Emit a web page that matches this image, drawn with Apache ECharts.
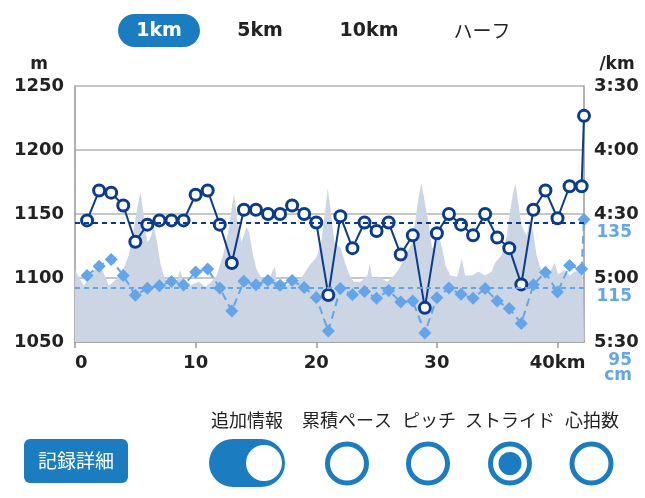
<!DOCTYPE html>
<html>
<head>
<meta charset="utf-8">
<script src="https://cdn.jsdelivr.net/npm/echarts@6/dist/echarts.min.js"></script>
<style>
html,body{margin:0;padding:0;background:#fff;}
#c{width:645px;height:498px;}
</style>
</head>
<body>
<div id="c"></div>
<script>
// ---- data ----
const splitKm = [1,2,3,4,5,6,7,8,9,10,11,12,13,14,15,16,17,18,19,20,21,22,23,24,25,26,27,28,29,30,31,32,33,34,35,36,37,38,39,40,41,42,42.195];
const paceSec = [273,259,260,266,283,275,273,273,273,261,259,275,293,268,268,270,270,266,270,274,308,271,286,274,278,274,289,280,314,279,270,275,280,270,281,286,303,268,259,272,257,257,224];
const strideCm = [115.8,118.7,120.8,115.8,109.6,111.8,112.6,113.9,112.8,116.9,117.8,111.9,104.7,114,112.9,114.2,112.7,114.2,112,108.9,98.4,111.7,109.8,110.8,108.7,111.1,107.5,107.8,97.8,108.8,111.9,109.9,108.7,111.7,107.8,105.5,100.8,112.9,116.8,110.6,118.9,117.8,133.3];
const avgPace = 274;
const avgStride = 112;
const elevKm = [0,0.74,1.6,2.1,2.8,3.2,3.9,4.46,4.88,5.15,5.42,5.7,5.98,6.25,6.53,6.8,7.07,7.36,7.77,8.29,8.73,9.0,9.55,10.25,10.8,11.2,11.74,12.28,12.7,12.98,13.19,13.44,13.8,14.21,14.43,14.76,15.04,15.45,16.0,16.55,16.74,17.52,18.35,18.9,19.45,20.0,20.41,20.69,20.96,21.24,21.51,22.03,22.45,22.86,23.14,23.69,24.24,24.43,24.65,25.34,25.89,26.45,26.86,27.4,27.96,28.23,28.51,28.73,29.0,29.34,29.61,29.88,30.17,30.44,30.71,31.12,31.68,32.07,32.34,32.9,33.44,34.0,34.55,34.83,35.37,35.79,36.06,36.33,36.5,36.74,37.02,37.44,37.71,37.98,38.26,38.68,39.22,39.77,40.05,40.6,41.02,41.43,41.84,42.07,42.195];
const elevM = [1106,1094,1106,1110,1094,1097,1104,1118,1139,1154,1167,1149,1128,1131,1141,1128,1112,1102,1094,1094,1106,1097,1094,1097,1093,1096,1102,1118,1136,1154,1166,1146,1128,1140,1136,1118,1107,1100,1097,1109,1097,1094,1097,1102,1110,1116,1128,1149,1170,1149,1128,1123,1110,1100,1097,1097,1102,1111,1100,1100,1097,1102,1107,1118,1128,1146,1165,1174,1159,1141,1123,1126,1133,1123,1110,1102,1101,1115,1102,1102,1105,1102,1105,1112,1118,1133,1152,1167,1174,1159,1141,1133,1146,1136,1118,1105,1102,1112,1103,1106,1102,1105,1105,1102,1102];
const xTickLabels = {0:'0',10:'10',20:'20',30:'30',40:'40km'};
const elevTicks = [1050,1100,1150,1200,1250];
const strideTickLabels = {95:'95\ncm',115:'115',135:'135'};
const tabLabels = ['1km','5km','10km','ハーフ'];
const optionLabels = ['追加情報','累積ペース','ピッチ','ストライド','心拍数'];

const NAVY = '#0b3b8c';
const LIGHT = '#64a5ea';
const BTN = '#1b7dc0';
const AREA = '#ccd5e4';
const GRID = '#b3b3b3';
const NUMFONT = '"DejaVu Sans"';
const JPFONT = '"Noto Sans CJK JP"';

function fmtPace(v){const m=Math.floor(v/60);const s=Math.round(v%60);return m+':'+(s<10?'0':'')+s;}

const chart = echarts.init(document.getElementById('c'), null, {renderer:'canvas'});

const tabX = [159,260,369,482];
const optX = [247,347,429,510,592];
const graphics = [];
graphics.push({type:'rect',shape:{x:118,y:14,width:82,height:33,r:16.5},style:{fill:BTN}});
tabLabels.forEach((t,i)=>{
  graphics.push({type:'text',x:tabX[i],y:31,style:{text:t,fill:i===0?'#fff':'#222',
    font:(i===3?'normal 19px '+JPFONT:'bold 19px '+NUMFONT),align:'center',verticalAlign:'middle'}});
});
graphics.push({type:'text',x:39,y:65,style:{text:'m',fill:'#222',font:'bold 17px '+NUMFONT,align:'center',verticalAlign:'middle'}});
graphics.push({type:'text',x:617,y:65,style:{text:'/km',fill:'#222',font:'bold 17px '+NUMFONT,align:'center',verticalAlign:'middle'}});
optionLabels.forEach((t,i)=>{
  graphics.push({type:'text',x:optX[i],y:420,style:{text:t,fill:'#222',font:'normal 18px '+JPFONT,align:'center',verticalAlign:'middle'}});
});
graphics.push({type:'rect',shape:{x:24,y:439,width:104,height:44,r:6},style:{fill:BTN}});
graphics.push({type:'text',x:76,y:461,style:{text:'記録詳細',fill:'#fff',font:'normal 19px '+JPFONT,align:'center',verticalAlign:'middle'}});
graphics.push({type:'rect',shape:{x:209,y:439,width:76,height:48,r:24},style:{fill:BTN}});
graphics.push({type:'circle',shape:{cx:264,cy:463,r:18},style:{fill:'#fff'}});
[347,428,510,591.5].forEach((cx,i)=>{
  graphics.push({type:'circle',shape:{cx:cx,cy:463.5,r:19.5},style:{fill:'#fff',stroke:BTN,lineWidth:5}});
  if(i===2) graphics.push({type:'circle',shape:{cx:cx,cy:463.5,r:11.5},style:{fill:BTN}});
});

const option = {
  animation:false,
  backgroundColor:'#fff',
  grid:{left:75,right:61,top:86,bottom:156,containLabel:false},
  graphic:graphics,
  xAxis:{type:'value',min:0,max:42.195,interval:10,
    axisLine:{show:true,lineStyle:{color:'#999',width:1.5}},
    axisTick:{show:true,length:6,lineStyle:{color:'#999',width:1.5}},
    splitLine:{show:false},
    axisLabel:{margin:12,color:'#222',fontWeight:'bold',fontSize:18,fontFamily:NUMFONT,
      alignMinLabel:'left',showMaxLabel:false,
      formatter:v=>xTickLabels[v]!==undefined?xTickLabels[v]:''}
  },
  yAxis:[
    {type:'value',min:elevTicks[0],max:elevTicks[elevTicks.length-1],interval:50,position:'left',
      axisLine:{show:true,lineStyle:{color:'#999',width:1.5}},axisTick:{show:false},
      splitLine:{show:true,lineStyle:{color:GRID,width:1.5}},
      axisLabel:{margin:11,color:'#222',fontWeight:'bold',fontSize:18,fontFamily:NUMFONT,
        formatter:v=>String(v)}},
    {type:'value',min:210,max:330,interval:30,inverse:true,position:'right',
      axisLine:{show:true,lineStyle:{color:'#999',width:1.5}},axisTick:{show:false},
      splitLine:{show:false},
      axisLabel:{margin:10,color:'#222',fontWeight:'bold',fontSize:18,fontFamily:NUMFONT,formatter:fmtPace}},
    {type:'value',min:95,max:175,interval:20,position:'right',
      axisLine:{show:false},axisTick:{show:false},splitLine:{show:false},
      axisLabel:{margin:48,align:'right',verticalAlign:'top',padding:[11,0,0,0],lineHeight:15,
        color:LIGHT,fontWeight:'bold',fontSize:17,fontFamily:NUMFONT,
        formatter:v=>strideTickLabels[v]!==undefined?strideTickLabels[v]:''}}
  ],
  series:[
    {name:'elev',type:'line',yAxisIndex:0,data:elevKm.map((k,i)=>[k,elevM[i]]),
      showSymbol:false,symbol:'none',lineStyle:{width:0},areaStyle:{color:AREA,opacity:1},z:1},
    {name:'stride',type:'line',yAxisIndex:2,data:splitKm.map((k,i)=>[k,strideCm[i]]),
      symbol:'diamond',symbolSize:13,itemStyle:{color:LIGHT,borderWidth:0},
      lineStyle:{color:LIGHT,width:2,type:[8,5]},z:3,
      markLine:{silent:true,symbol:'none',label:{show:false},
        lineStyle:{color:LIGHT,width:2,type:[5,4]},data:[{yAxis:avgStride}]}},
    {name:'pace',type:'line',yAxisIndex:1,data:splitKm.map((k,i)=>[k,paceSec[i]]),
      symbol:'circle',symbolSize:11,showAllSymbol:true,
      itemStyle:{color:'#fff',borderColor:NAVY,borderWidth:3},
      lineStyle:{color:NAVY,width:2},z:4,
      markLine:{silent:true,symbol:'none',label:{show:false},
        lineStyle:{color:NAVY,width:2,type:[5,4]},data:[{yAxis:avgPace}]}}
  ]
};
chart.setOption(option);
</script>
</body>
</html>
